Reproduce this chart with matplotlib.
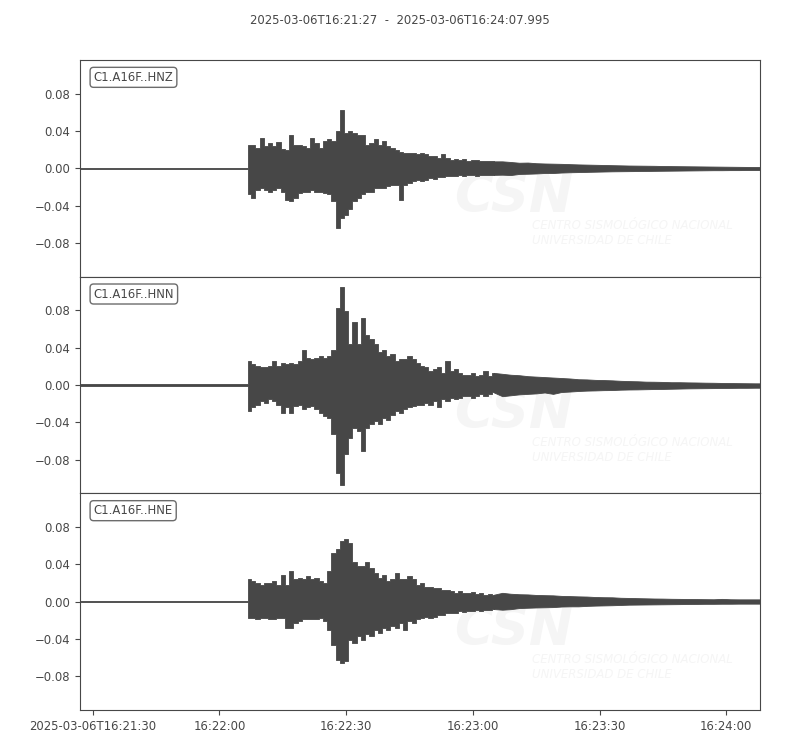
import numpy as np
import matplotlib
matplotlib.use("Agg")
import matplotlib.pyplot as plt
import matplotlib.dates as mdates
from matplotlib.ticker import MultipleLocator, FuncFormatter

# trace ids and time window
channels = ["C1.A16F..HNZ", "C1.A16F..HNN", "C1.A16F..HNE"]
t_start = "2025-03-06T16:21:27"
t_end = "2025-03-06T16:24:07.995"
t_ref = "2025-03-06T16:21:30"

# seconds after 16:21:30 (envelope, min/max per bin)
sec_pre = [-3, 0, 5, 10, 15, 20, 25, 30, 35, 36.4]
sec_event = list(range(37, 96))
sec_tail = list(range(97, 158, 2)) + [157.99]

# pre-event noise
pre_hi = [0.0006, 0.0006, 0.0007, 0.0006, 0.0006, 0.0008, 0.0006, 0.0007, 0.0006, 0.0006]
pre_lo = [-0.0006, -0.0006, -0.0006, -0.0007, -0.0006, -0.0006, -0.0008, -0.0006, -0.0006, -0.0006]

# HNZ
hnz_hi = [0.025, 0.025, 0.022, 0.033, 0.024, 0.027, 0.024, 0.028, 0.021, 0.020,
          0.036, 0.025, 0.025, 0.024, 0.022, 0.032, 0.027, 0.022, 0.029, 0.031,
          0.029, 0.040, 0.063, 0.038, 0.040, 0.038, 0.036, 0.036, 0.025, 0.027,
          0.031, 0.025, 0.029, 0.024, 0.022, 0.020, 0.018, 0.016, 0.016, 0.016,
          0.015, 0.016, 0.015, 0.013, 0.013, 0.011, 0.015, 0.011, 0.009, 0.0095,
          0.009, 0.0095, 0.0075, 0.009, 0.0085, 0.008, 0.0075, 0.008, 0.0075]
hnz_lo = [-0.028, -0.032, -0.023, -0.021, -0.023, -0.025, -0.023, -0.021, -0.025, -0.034,
          -0.035, -0.032, -0.026, -0.025, -0.025, -0.023, -0.025, -0.025, -0.026, -0.028,
          -0.035, -0.064, -0.053, -0.050, -0.044, -0.035, -0.032, -0.028, -0.025, -0.025,
          -0.021, -0.021, -0.021, -0.019, -0.018, -0.018, -0.034, -0.018, -0.016, -0.014,
          -0.012, -0.014, -0.012, -0.010, -0.011, -0.0097, -0.0097, -0.0086, -0.0086, -0.008,
          -0.0075, -0.0085, -0.007, -0.0075, -0.008, -0.007, -0.0072, -0.0068, -0.007]
hnz_tail_hi = [0.0075, 0.0068, 0.006, 0.0062, 0.0055, 0.0052, 0.005, 0.0048, 0.0045, 0.0042,
               0.004, 0.0038, 0.0036, 0.0034, 0.0032, 0.003, 0.0029, 0.0028, 0.0027, 0.0025,
               0.0024, 0.0023, 0.0022, 0.0021, 0.002, 0.0019, 0.0018, 0.0017, 0.0016, 0.0015,
               0.0014, 0.0014]
hnz_tail_lo = [-0.0068, -0.0072, -0.006, -0.0058, -0.0055, -0.005, -0.005, -0.0045, -0.0042, -0.004,
               -0.0038, -0.0036, -0.0034, -0.0032, -0.0031, -0.003, -0.0029, -0.0028, -0.0027, -0.0026,
               -0.0025, -0.0024, -0.0023, -0.0022, -0.0021, -0.002, -0.002, -0.0019, -0.0019, -0.0018,
               -0.0018, -0.0018]

# HNN
hnn_hi = [0.026, 0.022, 0.020, 0.019, 0.019, 0.020, 0.026, 0.020, 0.024, 0.022,
          0.024, 0.022, 0.026, 0.038, 0.029, 0.028, 0.029, 0.031, 0.029, 0.031,
          0.038, 0.083, 0.105, 0.079, 0.044, 0.067, 0.044, 0.072, 0.054, 0.049,
          0.044, 0.035, 0.037, 0.031, 0.033, 0.026, 0.028, 0.028, 0.031, 0.028,
          0.024, 0.020, 0.019, 0.015, 0.017, 0.019, 0.013, 0.026, 0.015, 0.017,
          0.013, 0.011, 0.011, 0.013, 0.0097, 0.011, 0.015, 0.0097, 0.013]
hnn_lo = [-0.028, -0.024, -0.021, -0.017, -0.019, -0.015, -0.017, -0.021, -0.030, -0.024,
          -0.030, -0.023, -0.021, -0.026, -0.024, -0.023, -0.026, -0.030, -0.033, -0.035,
          -0.053, -0.094, -0.107, -0.074, -0.057, -0.046, -0.049, -0.071, -0.046, -0.042,
          -0.039, -0.042, -0.035, -0.037, -0.032, -0.028, -0.030, -0.026, -0.024, -0.023,
          -0.021, -0.021, -0.019, -0.021, -0.017, -0.024, -0.015, -0.017, -0.014, -0.015,
          -0.014, -0.012, -0.012, -0.014, -0.012, -0.010, -0.012, -0.010, -0.008]
hnn_tail_hi = [0.012, 0.011, 0.0105, 0.0095, 0.009, 0.0085, 0.008, 0.0075, 0.007, 0.0062,
               0.006, 0.0055, 0.0053, 0.005, 0.0045, 0.0042, 0.004, 0.0036, 0.0035, 0.0033,
               0.003, 0.003, 0.0028, 0.0027, 0.0025, 0.0024, 0.0022, 0.0021, 0.002, 0.0019,
               0.0018, 0.0018]
hnn_tail_lo = [-0.012, -0.011, -0.010, -0.0095, -0.009, -0.008, -0.0095, -0.0075, -0.007, -0.0064,
               -0.006, -0.0058, -0.0055, -0.0054, -0.005, -0.0048, -0.0047, -0.0045, -0.0043, -0.0042,
               -0.004, -0.0038, -0.0036, -0.0035, -0.0034, -0.0033, -0.0032, -0.0031, -0.003, -0.003,
               -0.0029, -0.0029]

# HNE
hne_hi = [0.024, 0.022, 0.020, 0.018, 0.020, 0.020, 0.022, 0.018, 0.029, 0.018,
          0.033, 0.024, 0.025, 0.024, 0.027, 0.024, 0.025, 0.022, 0.020, 0.033,
          0.052, 0.056, 0.065, 0.067, 0.063, 0.042, 0.038, 0.038, 0.042, 0.036,
          0.031, 0.025, 0.029, 0.022, 0.024, 0.031, 0.024, 0.024, 0.027, 0.024,
          0.018, 0.020, 0.016, 0.016, 0.015, 0.015, 0.013, 0.013, 0.011, 0.0093,
          0.011, 0.0093, 0.0093, 0.010, 0.0086, 0.0093, 0.0075, 0.0086, 0.0075]
hne_lo = [-0.018, -0.018, -0.019, -0.018, -0.018, -0.019, -0.019, -0.018, -0.018, -0.028,
          -0.028, -0.023, -0.021, -0.019, -0.019, -0.019, -0.019, -0.018, -0.021, -0.030,
          -0.046, -0.062, -0.066, -0.064, -0.041, -0.044, -0.037, -0.041, -0.035, -0.037,
          -0.030, -0.034, -0.028, -0.030, -0.026, -0.028, -0.023, -0.030, -0.021, -0.023,
          -0.019, -0.018, -0.016, -0.018, -0.016, -0.014, -0.014, -0.012, -0.012, -0.012,
          -0.010, -0.011, -0.010, -0.010, -0.0093, -0.010, -0.0086, -0.0086, -0.0079]
hne_tail_hi = [0.0095, 0.0085, 0.008, 0.0078, 0.0072, 0.007, 0.0068, 0.0062, 0.006, 0.0057,
               0.0055, 0.005, 0.0048, 0.0047, 0.0042, 0.004, 0.0038, 0.0036, 0.0034, 0.0033,
               0.0031, 0.003, 0.0029, 0.0028, 0.0027, 0.0026, 0.003, 0.0026, 0.0025, 0.0025,
               0.0025, 0.0025]
hne_tail_lo = [-0.0086, -0.008, -0.0068, -0.0065, -0.0062, -0.006, -0.0058, -0.0052, -0.005, -0.005,
               -0.0045, -0.0042, -0.004, -0.0038, -0.0035, -0.0032, -0.0031, -0.003, -0.0029, -0.0028,
               -0.0027, -0.0026, -0.0025, -0.0024, -0.0023, -0.0023, -0.0022, -0.0022, -0.0021, -0.0021,
               -0.0021, -0.0021]

traces = [
    (hnz_hi, hnz_lo, hnz_tail_hi, hnz_tail_lo),
    (hnn_hi, hnn_lo, hnn_tail_hi, hnn_tail_lo),
    (hne_hi, hne_lo, hne_tail_hi, hne_tail_lo),
]

GREY = "#474747"
FS = 8.4


def to_num(seconds):
    base = mdates.date2num(np.datetime64(t_ref))
    return base + np.asarray(seconds, dtype=float) / 86400.0


def time_label(x, pos):
    d = mdates.num2date(x)
    if pos == 0:
        return d.strftime("%Y-%m-%dT%H:%M:%S")
    return d.strftime("%H:%M:%S")


def main():
    plt.rcParams["font.family"] = ["DejaVu Sans"]
    plt.rcParams["axes.unicode_minus"] = True

    fig = plt.figure(figsize=(8, 7.5), dpi=100)
    x_head = to_num(sec_pre + sec_event)
    x_tail = to_num(sec_event[-1:] + sec_tail)
    x0 = mdates.date2num(np.datetime64(t_start))
    x1 = mdates.date2num(np.datetime64(t_end))

    amax = max(max(abs(v) for v in part) for tr in traces for part in tr)
    ylim = amax * 1.085

    left, right, top, bottom = 0.1, 0.95, 0.92, 0.0533
    h = (top - bottom) / 3
    for i, (name, tr) in enumerate(zip(channels, traces)):
        ax = fig.add_axes([left, top - (i + 1) * h, right - left, h])
        # strong motion part: min/max per second, drawn as steps
        ax.fill_between(x_head, pre_lo + tr[1], pre_hi + tr[0], step="mid",
                        color=GREY, linewidth=0.6, edgecolor=GREY, zorder=2)
        # coda: coarser bins, drawn straight
        ax.fill_between(x_tail, tr[1][-1:] + tr[3], tr[0][-1:] + tr[2],
                        color=GREY, linewidth=0.6, edgecolor=GREY, zorder=2)

        ax.set_xlim(x0, x1)
        ax.set_ylim(-ylim, ylim)
        ax.yaxis.set_major_locator(MultipleLocator(0.04))
        ax.yaxis.set_major_formatter(FuncFormatter(lambda v, p: ("%.2f" % v).replace("-", "\u2212")))
        for sp in ax.spines.values():
            sp.set_color(GREY)
        ax.tick_params(colors=GREY, labelsize=FS, labelcolor=GREY)

        ax.text(0.02, 0.95, name, transform=ax.transAxes, va="top", ha="left",
                fontsize=FS, color=GREY, zorder=5,
                bbox=dict(boxstyle="round", fc="w", ec=GREY, alpha=0.8))

        # faint CSN watermark
        ax.text(0.55, 0.30, "CSN", transform=ax.transAxes, fontsize=38,
                fontweight="bold", style="italic", color="#f5f5f5", zorder=1)
        ax.text(0.665, 0.20, "CENTRO SISMOLÓGICO NACIONAL\nUNIVERSIDAD DE CHILE",
                transform=ax.transAxes, fontsize=8.5, style="italic", color="#f5f5f5",
                linespacing=1.2, va="center", zorder=1, clip_on=True)

        ax.xaxis.set_major_locator(mdates.SecondLocator(bysecond=[0, 30]))
        ax.xaxis.set_major_formatter(FuncFormatter(time_label))
        if i < 2:
            ax.tick_params(axis="x", bottom=False, labelbottom=False)

    fig.text(0.5, 0.973, t_start + "  -  " + t_end, ha="center", va="center",
             fontsize=FS, color=GREY)
    fig.savefig("out.png", dpi=100)


if __name__ == "__main__":
    main()
